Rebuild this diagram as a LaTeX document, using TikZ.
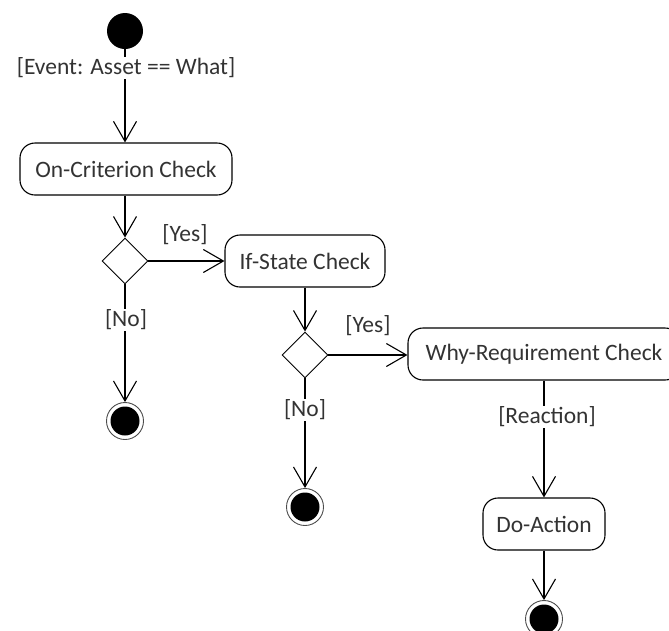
\documentclass[tikz,border=0pt]{standalone}
\usepackage{fontspec}
\setmainfont{Carlito}
\usetikzlibrary{arrows.meta,shapes.geometric}
\tikzset{
  actbox/.style={draw, rounded corners=15pt, line width=1.1pt, minimum height=52pt, inner sep=0pt, text=black!80},
  decis/.style={draw, diamond, aspect=1, minimum size=46pt, inner sep=0pt, line width=0.9pt},
  startnode/.style={circle, fill=black, minimum size=36pt, inner sep=0pt},
  finalnode/.style={circle, draw=black!70, line width=0.9pt, minimum size=37pt, inner sep=0pt,
     path picture={\fill[black] (path picture bounding box.center) circle (14.5pt);}},
  flow/.style={line width=1.1pt, -{Straight Barb[length=20pt,width=23pt,line width=1.1pt]}},
  guard/.style={fill=white, inner sep=1pt, text=black!80},
  guardtop/.style={inner sep=1pt, text=black!80}
}
\begin{document}
\begin{tikzpicture}[x=1pt,y=-1pt,font=\fontsize{23.5}{28}\selectfont]
\useasboundingbox (0,0) rectangle (669,630);
\node[startnode] (start) at (125,31) {};
\node[actbox, minimum width=212pt] (oc) at (126,169) {On-Criterion Check};
\node[decis] (d1) at (125,261) {};
\node[actbox, minimum width=160pt] (is) at (305,261) {If-State Check};
\node[decis] (d2) at (305,355) {};
\node[actbox, minimum width=272pt] (wr) at (544,354) {Why-Requirement Check};
\node[actbox, minimum width=122pt] (da) at (544,524) {Do-Action};
\node[finalnode] (f1) at (125,421) {};
\node[finalnode] (f2) at (305,507) {};
\node[finalnode] (f3) at (544,619) {};

\draw[flow] (start) -- (start |- oc.north);
\node[guard] (g1) at (126,68) {[Event: Asset == What]};
\draw[flow] (oc.south -| d1) -- (d1.north);
\draw[flow] (d1.east) -- (is.west |- d1.east);
\node[guardtop] (g2) at (185,235) {[Yes]};
\draw[flow] (d1.south) -- (f1.north);
\node[guard] (g3) at (126,320) {[No]};
\draw[flow] (is.south -| d2) -- (d2.north);
\draw[flow] (d2.east) -- (wr.west |- d2.east);
\node[guardtop] (g4) at (368,326) {[Yes]};
\draw[flow] (d2.south) -- (f2.north);
\node[guard] (g5) at (305,410) {[No]};
\draw[flow] (wr.south) -- (da.north);
\node[guard] (g6) at (547,417) {[Reaction]};
\draw[flow] (da.south) -- (f3.north);
\end{tikzpicture}
\end{document}
